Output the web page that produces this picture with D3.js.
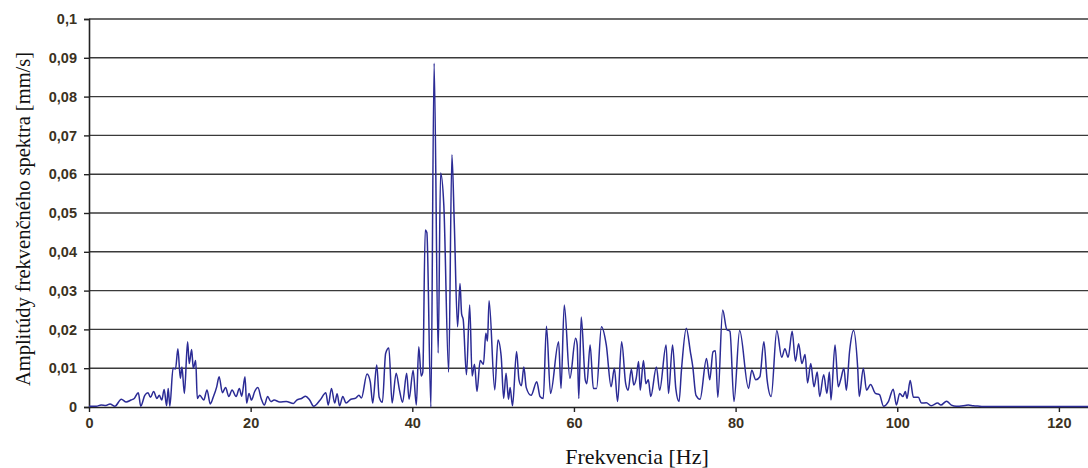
<!DOCTYPE html>
<html>
<head>
<meta charset="utf-8">
<script src="https://cdn.jsdelivr.net/npm/d3@7"></script>
<style>
  body { margin: 0; background: #fff; }
  svg { display: block; }
</style>
</head>
<body>
<svg id="chart"></svg>
<script>
const WIDTH = 1088;
const HEIGHT = 468;

// frequency [Hz] and spectrum amplitude [mm/s]
const freq = [
  0, 0.9, 1.5, 2.1, 2.6, 3.2, 4.0, 4.6, 5.2, 5.6, 6.1, 6.4, 6.9, 7.3, 7.6, 8.0, 8.4, 8.7, 9.0, 9.3,
  9.6, 9.8, 10.0, 10.4, 10.7, 11.0, 11.3, 11.5, 11.8, 12.2, 12.4, 12.7, 12.9, 13.2, 13.4, 13.7, 14.2, 14.6, 15.0, 15.4,
  15.8, 16.1, 16.5, 16.9, 17.3, 17.7, 18.2, 18.6, 18.9, 19.3, 19.5, 19.8, 20.1, 20.5, 20.9, 21.3, 21.7, 22.1, 22.5, 22.9,
  23.6, 24.4, 25.3, 25.7, 26.3, 26.8, 27.3, 27.8, 28.6, 29.3, 29.6, 30.0, 30.4, 30.7, 31.0, 31.4, 31.8, 32.4, 33.0, 33.4,
  33.7, 34.4, 34.8, 35.1, 35.6, 35.9, 36.3, 36.7, 37.1, 37.5, 38.0, 38.4, 38.8, 39.3, 39.6, 40.1, 40.5, 40.8, 41.1, 41.3,
  41.6, 41.8, 42.3, 42.7, 43.2, 43.5, 43.9, 44.5, 44.9, 45.2, 45.6, 45.9, 46.1, 46.3, 46.7, 47.1, 47.4, 47.7, 48.0, 48.4,
  48.8, 49.1, 49.3, 49.5, 50.2, 50.6, 51.0, 51.3, 51.6, 51.9, 52.1, 52.4, 52.9, 53.2, 53.5, 53.8, 54.1, 54.7, 55.4, 55.8,
  56.2, 56.6, 57.1, 58.1, 58.4, 58.8, 59.5, 60.2, 60.4, 60.6, 60.9, 61.4, 61.6, 62.0, 62.4, 62.8, 63.4, 64.0, 64.6, 65.0,
  65.4, 65.9, 66.4, 66.7, 67.1, 67.4, 67.7, 68.0, 68.2, 68.6, 68.9, 69.2, 69.5, 70.2, 70.6, 71.4, 71.7, 72.2, 72.6, 73.0,
  73.3, 73.9, 74.4, 74.7, 75.1, 75.6, 76.4, 76.8, 77.2, 77.5, 77.8, 78.4, 78.9, 79.3, 79.8, 80.5, 81.6, 82.0, 82.5, 83.0,
  83.5, 83.9, 84.4, 85.1, 85.7, 86.1, 86.5, 87.0, 87.4, 87.8, 88.2, 88.6, 88.9, 89.3, 89.7, 90.1, 90.4, 90.9, 91.3, 91.6,
  91.8, 92.3, 92.7, 93.0, 93.4, 93.7, 94.1, 94.6, 95.1, 95.3, 95.8, 96.2, 96.7, 97.3, 97.8, 98.3, 98.9, 99.5, 99.9, 100.3,
  100.7, 101.0, 101.2, 101.6, 102.0, 102.6, 103.0, 103.6, 104.2, 105.0, 105.4, 106.1, 106.7, 107.3, 108.4, 108.8, 109.4, 110.2, 111.0, 115.0,
  123.6
];
const amp = [
  0.0002, 0.0002, 0.0005, 0.0004, 0.0008, 0.0002, 0.002, 0.0013, 0.0018, 0.0022, 0.0037, 0.0002, 0.003, 0.0037, 0.0025, 0.004, 0.0022, 0.003, 0.0018, 0.0045,
  0.0003, 0.0048, 0.0002, 0.01, 0.0098, 0.015, 0.0074, 0.0103, 0.0035, 0.0168, 0.0112, 0.0148, 0.01, 0.012, 0.0022, 0.003, 0.0018, 0.0044, 0.0008, 0.0027,
  0.0052, 0.0078, 0.0037, 0.005, 0.0027, 0.0044, 0.0027, 0.0048, 0.0028, 0.0078, 0.001, 0.0035, 0.0018, 0.004, 0.005, 0.0022, 0.0005, 0.0027, 0.0014, 0.0018,
  0.0013, 0.0014, 0.0009, 0.0018, 0.0022, 0.0028, 0.0018, 0.0002, 0.0018, 0.0037, 0.0005, 0.0048, 0.001, 0.0034, 0.0003, 0.0027, 0.001, 0.002, 0.0023, 0.003,
  0.0023, 0.0085, 0.0065, 0.001, 0.0108, 0.0025, 0.0012, 0.0138, 0.0152, 0.001, 0.0087, 0.0045, 0.0012, 0.0087, 0.002, 0.0095, 0.0005, 0.0155, 0.008, 0.009,
  0.0456, 0.045, 0.0, 0.0886, 0.0139, 0.0603, 0.052, 0.009, 0.065, 0.047, 0.0207, 0.0318, 0.024, 0.0225, 0.0083, 0.0263, 0.008, 0.011, 0.004, 0.012,
  0.011, 0.019, 0.017, 0.0274, 0.0044, 0.0173, 0.013, 0.0022, 0.0087, 0.002, 0.005, 0.0003, 0.0143, 0.007, 0.0055, 0.0103, 0.005, 0.003, 0.0065, 0.0027,
  0.0022, 0.0208, 0.0035, 0.0168, 0.0048, 0.0263, 0.0074, 0.0177, 0.016, 0.0022, 0.0232, 0.007, 0.006, 0.016, 0.0048, 0.0048, 0.0207, 0.016, 0.0052, 0.01,
  0.0014, 0.0168, 0.006, 0.0043, 0.0097, 0.0057, 0.0074, 0.0117, 0.0043, 0.012, 0.006, 0.007, 0.0027, 0.0103, 0.0043, 0.016, 0.0035, 0.016, 0.0048, 0.0014,
  0.0095, 0.0203, 0.0143, 0.0104, 0.003, 0.002, 0.0125, 0.007, 0.0142, 0.0145, 0.0025, 0.025, 0.02, 0.0195, 0.0014, 0.0197, 0.0048, 0.0095, 0.007, 0.0078,
  0.0168, 0.007, 0.0027, 0.0197, 0.0128, 0.015, 0.0128, 0.0195, 0.0118, 0.0163, 0.0112, 0.0135, 0.0062, 0.0112, 0.0052, 0.009, 0.0027, 0.0083, 0.0035, 0.009,
  0.0018, 0.016, 0.0052, 0.007, 0.01, 0.0043, 0.0143, 0.0197, 0.0103, 0.0027, 0.01, 0.0043, 0.0058, 0.0035, 0.0032, 0.0002, 0.0014, 0.0046, 0.0005, 0.0035,
  0.0027, 0.004, 0.0022, 0.0068, 0.0025, 0.0025, 0.001, 0.0011, 0.0003, 0.001, 0.0005, 0.0015, 0.0005, 0.0002, 0.0004, 0.0005, 0.0003, 0.0002, 0.0001, 0.0001,
  0.0001
];

const xTicks = [0, 20, 40, 60, 80, 100, 120];
const yTicks = [0, 0.01, 0.02, 0.03, 0.04, 0.05, 0.06, 0.07, 0.08, 0.09, 0.1];

const plotLeft = 89, plotRight = 1088, plotTop = 19, plotBottom = 407;

const svg = d3.select("#chart")
  .attr("width", WIDTH)
  .attr("height", HEIGHT);

const x = d3.scaleLinear().domain([0, 123.6]).range([plotLeft, plotRight]);
const y = d3.scaleLinear().domain([0, 0.1]).range([plotBottom, plotTop]);

const fmtY = d => d === 0 ? "0" : String(+d.toFixed(2)).replace(".", ",");

// horizontal gridlines
svg.append("g")
  .selectAll("line")
  .data(yTicks.slice(1))
  .join("line")
  .attr("x1", plotLeft)
  .attr("x2", plotRight)
  .attr("y1", d => y(d))
  .attr("y2", d => y(d))
  .attr("stroke", "#3a3a3a")
  .attr("stroke-width", 1.4);

// y axis
const yAxis = svg.append("g")
  .attr("transform", `translate(${plotLeft},0)`)
  .call(d3.axisLeft(y).tickValues(yTicks).tickSize(5).tickPadding(7).tickFormat(fmtY));

// x axis
const xAxis = svg.append("g")
  .attr("transform", `translate(0,${plotBottom})`)
  .call(d3.axisBottom(x).tickValues(xTicks).tickSize(5).tickPadding(6).tickSizeOuter(0));

[yAxis, xAxis].forEach(g => {
  g.select(".domain").attr("stroke", "#222").attr("stroke-width", 1.6);
  g.selectAll(".tick line").attr("stroke", "#222").attr("stroke-width", 1.4);
  g.selectAll(".tick text")
    .attr("fill", "#3b3222")
    .style("font-family", "'Liberation Sans', Arial, sans-serif")
    .style("font-size", "14.5px")
    .style("font-weight", "bold");
});

// spectrum line
const line = d3.line()
  .x((d, i) => x(freq[i]))
  .y(d => y(d))
  .curve(d3.curveMonotoneX);

svg.append("path")
  .datum(amp)
  .attr("fill", "none")
  .attr("stroke", "#2b2b95")
  .attr("stroke-width", 1.5)
  .attr("d", line);

// axis titles
svg.append("text")
  .attr("x", 637)
  .attr("y", 464)
  .attr("text-anchor", "middle")
  .style("font-family", "'Liberation Serif', 'Times New Roman', serif")
  .style("font-size", "22px")
  .attr("fill", "#111")
  .text("Frekvencia [Hz]");

svg.append("text")
  .attr("transform", `translate(30,${(plotTop + plotBottom) / 2 + 6}) rotate(-90)`)
  .attr("text-anchor", "middle")
  .style("font-family", "'Liberation Serif', 'Times New Roman', serif")
  .style("font-size", "20.5px")
  .attr("fill", "#111")
  .text("Amplitúdy frekvenčného spektra [mm/s]");
</script>
</body>
</html>
